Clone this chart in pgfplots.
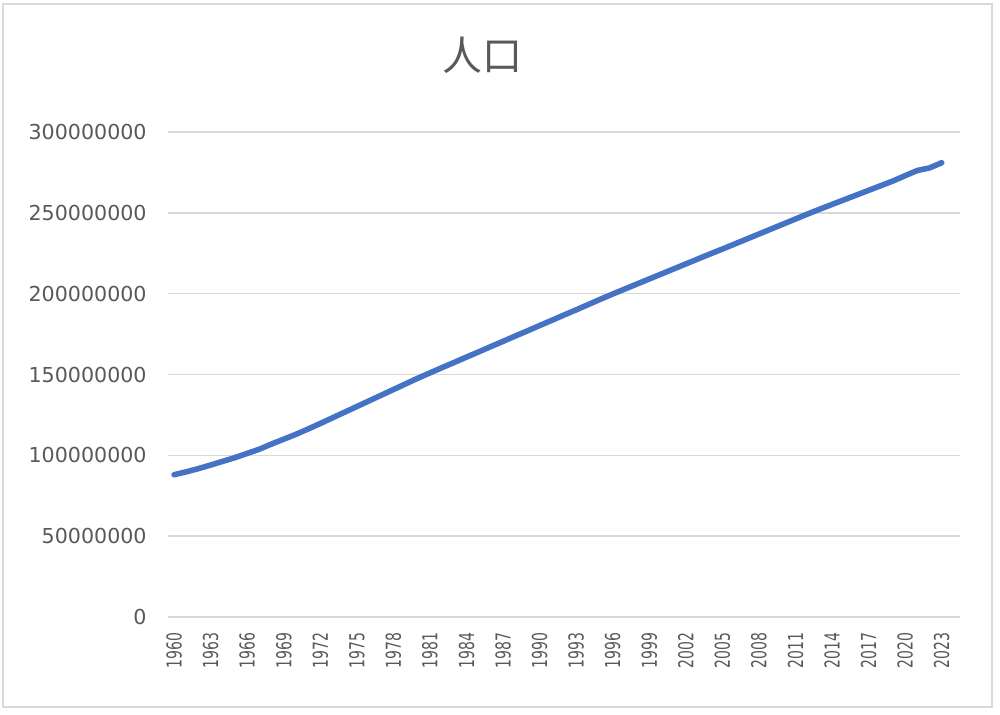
\documentclass[border=0pt]{standalone}
\usepackage{fontspec}
\setmainfont{Carlito}
\newfontfamily\cjk{Noto Sans CJK SC}
\newfontfamily\dejavu{DejaVu Sans}
\usepackage{graphicx}
\usepackage{pgfplots}
\usepackage{pgfplotstable}
\pgfplotsset{compat=1.18}
\definecolor{linec}{HTML}{4472C4}
\definecolor{gridc}{HTML}{D9D9D9}
\definecolor{txt}{HTML}{595959}
\pgfplotstableread{
year pop
1960 88000000
1961 89800000
1962 91800000
1963 94000000
1964 96300000
1965 98600000
1966 101200000
1967 103800000
1968 107000000
1969 110000000
1970 113000000
1971 116300000
1972 119700000
1973 123200000
1974 126700000
1975 130200000
1976 133700000
1977 137200000
1978 140700000
1979 144200000
1980 147700000
1981 151000000
1982 154300000
1983 157500000
1984 160800000
1985 164000000
1986 167300000
1987 170500000
1988 173800000
1989 177000000
1990 180300000
1991 183500000
1992 186800000
1993 190000000
1994 193300000
1995 196600000
1996 199800000
1997 202900000
1998 206000000
1999 209100000
2000 212200000
2001 215300000
2002 218400000
2003 221500000
2004 224600000
2005 227600000
2006 230700000
2007 233800000
2008 236900000
2009 240000000
2010 243100000
2011 246200000
2012 249300000
2013 252300000
2014 255200000
2015 258100000
2016 261000000
2017 263900000
2018 266800000
2019 269700000
2020 273000000
2021 276200000
2022 277800000
2023 281000000
}\popdata
\begin{document}
\begin{tikzpicture}
\path[use as bounding box] (0,0) rectangle (500pt,357pt);
\draw[gridc, line width=0.75pt] (1.5pt,3.5pt) rectangle (496pt,355pt);
\node[txt, font=\cjk\fontsize{20}{24}\selectfont] at (241pt,329.5pt) {人口};
\begin{axis}[
  at={(84pt,48.5pt)}, anchor=south west,
  scale only axis, width=396pt, height=242.5pt,
  xmin=1959.5, xmax=2024.5, ymin=0, ymax=300000000,
  xtick={1960,1963,1966,1969,1972,1975,1978,1981,1984,1987,1990,1993,1996,1999,2002,2005,2008,2011,2014,2017,2020,2023},
  ytick={0,50000000,100000000,150000000,200000000,250000000,300000000},
  yticklabels={0,50000000,100000000,150000000,200000000,250000000,300000000},
  xticklabel={\scalebox{0.68}[1]{\pgfmathprintnumber[1000 sep={},assume math mode=true]{\tick}}},
  axis line style={draw=none},
  major tick length=0pt,
  ymajorgrids,
  major grid style={gridc, line width=0.75pt},
  scaled y ticks=false,
  yticklabel style={font=\dejavu\fontsize{10.3}{12}\selectfont, text=txt, anchor=east, inner sep=0pt, xshift=-10.5pt},
  xticklabel style={font=\dejavu\fontsize{10.3}{12}\selectfont, text=txt, yshift=-7.5pt, rotate=90, anchor=east, inner sep=0pt},
  clip=false,
]
\addplot[linec, line width=2.8pt, line join=round, line cap=round, mark=none] table[x=year, y=pop] {\popdata};
\end{axis}
\end{tikzpicture}
\end{document}
